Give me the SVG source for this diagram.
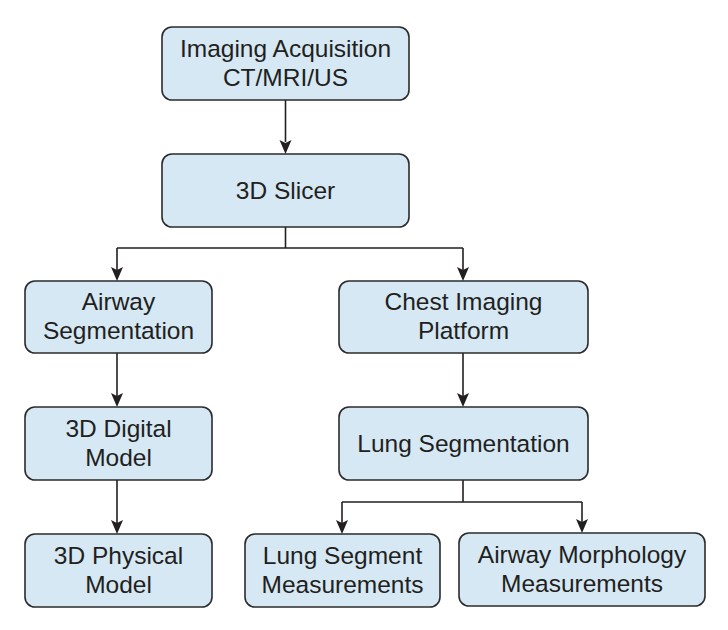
<svg xmlns="http://www.w3.org/2000/svg" width="728" height="630" viewBox="0 0 728 630">
<style>
.box{fill:#d5e8f4;stroke:#2b2b2b;stroke-width:1.6}
.t{font-family:"Liberation Sans",Arial,sans-serif;font-size:24.5px;fill:#231f20;text-anchor:middle}
.c{fill:none;stroke:#231f20;stroke-width:1.6}
</style>
<rect width="728" height="630" fill="#fff"/>
<g id="connectors">
<path class="c" d="M285.5,100 V142"/>
<path class="c" d="M285.5,227 V248 M117,248 H463"/>
<path class="c" d="M117,248 V270"/>
<path class="c" d="M463,248 V270"/>
<path class="c" d="M117,353 V396"/>
<path class="c" d="M463,353 V396"/>
<path class="c" d="M117,480 V523"/>
<path class="c" d="M463,480 V502 M342,502 H582"/>
<path class="c" d="M342,502 V523"/>
<path class="c" d="M582,502 V522"/>
<g fill="#231f20">
<path d="M279.5,140 L285.5,143 L291.5,140 L285.5,154 Z"/>
<path d="M111,267 L117,270 L123,267 L117,281 Z"/>
<path d="M457,267 L463,270 L469,267 L463,281 Z"/>
<path d="M111,393 L117,396 L123,393 L117,407 Z"/>
<path d="M457,393 L463,396 L469,393 L463,407 Z"/>
<path d="M111,520 L117,523 L123,520 L117,534 Z"/>
<path d="M336,520 L342,523 L348,520 L342,534 Z"/>
<path d="M576,519 L582,522 L588,519 L582,533 Z"/>
</g>
</g>
<g id="n1"><rect class="box" x="162" y="27" width="247" height="73" rx="10"/><text class="t" x="285.5" y="57">Imaging Acquisition</text><text class="t" x="285.5" y="86">CT/MRI/US</text></g>
<g id="n2"><rect class="box" x="162" y="154" width="247" height="73" rx="10"/><text class="t" x="285.5" y="199">3D Slicer</text></g>
<g id="n3"><rect class="box" x="25" y="281" width="187" height="72" rx="10"/><text class="t" x="118.5" y="310">Airway</text><text class="t" x="118.5" y="339">Segmentation</text></g>
<g id="n4"><rect class="box" x="339" y="281" width="249" height="72" rx="10"/><text class="t" x="463.5" y="310">Chest Imaging</text><text class="t" x="463.5" y="339">Platform</text></g>
<g id="n5"><rect class="box" x="25" y="407" width="187" height="73" rx="10"/><text class="t" x="118.5" y="437">3D Digital</text><text class="t" x="118.5" y="466">Model</text></g>
<g id="n6"><rect class="box" x="339" y="407" width="249" height="73" rx="10"/><text class="t" x="463.5" y="452">Lung Segmentation</text></g>
<g id="n7"><rect class="box" x="25" y="534" width="187" height="73" rx="10"/><text class="t" x="118.5" y="564">3D Physical</text><text class="t" x="118.5" y="593">Model</text></g>
<g id="n8"><rect class="box" x="245" y="534" width="195" height="73" rx="10"/><text class="t" x="342.5" y="564">Lung Segment</text><text class="t" x="342.5" y="593">Measurements</text></g>
<g id="n9"><rect class="box" x="459" y="533" width="246" height="73" rx="10"/><text class="t" x="582" y="563">Airway Morphology</text><text class="t" x="582" y="592">Measurements</text></g>
</svg>
